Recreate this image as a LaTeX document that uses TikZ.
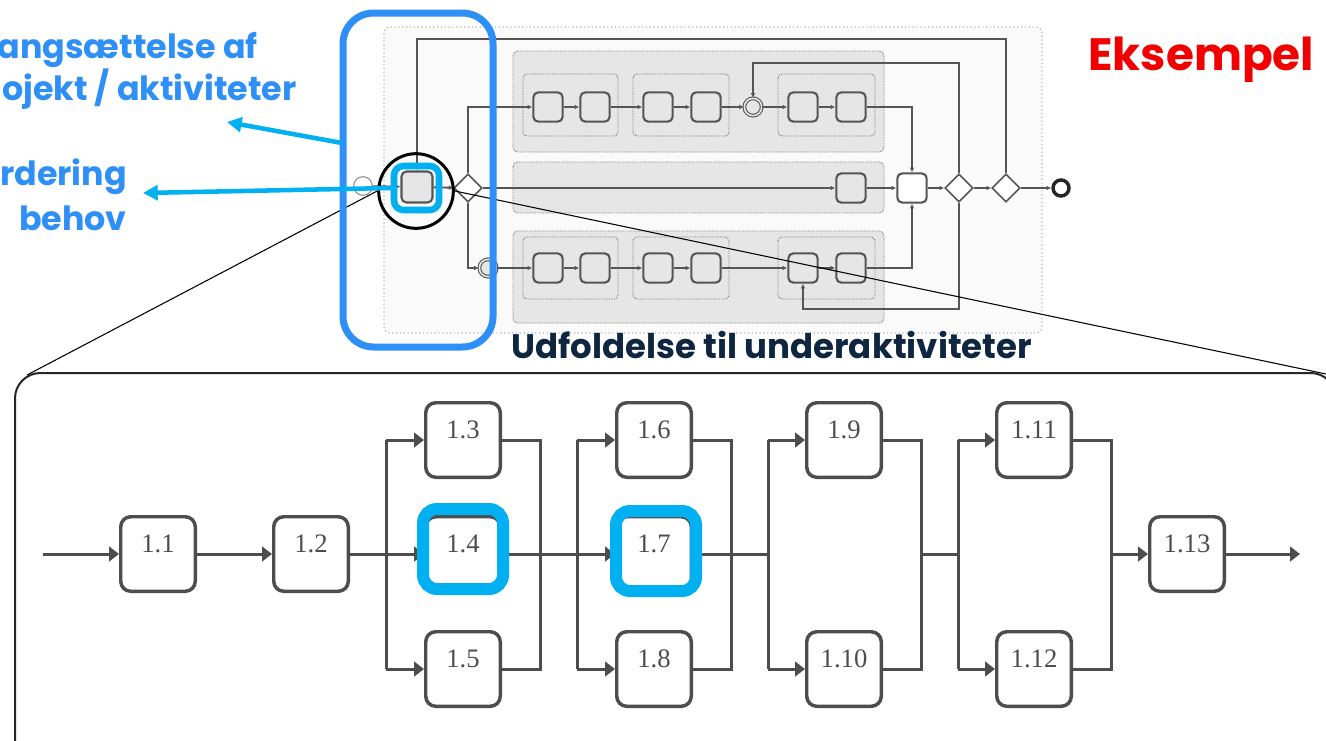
\documentclass[tikz,border=0pt]{standalone}
\usepackage{fontspec}
\setmainfont{Liberation Serif}
\newfontfamily\popfont{Poppins}
\usetikzlibrary{arrows.meta,shapes.geometric,calc}
\definecolor{bpblue}{HTML}{2E8FF7}
\definecolor{cyanh}{HTML}{00B0F0}
\definecolor{navyx}{HTML}{0F2640}
\definecolor{lanefill}{HTML}{E6E6E6}
\definecolor{tgray}{HTML}{555555}
\definecolor{dgray}{HTML}{4D4D4D}
\definecolor{redx}{HTML}{F20000}
\begin{document}
\begin{tikzpicture}[x=0.75pt,y=-0.75pt,
  pool/.style={draw=black!30,dotted,line width=0.9pt,fill=black!2,rounded corners=4.5pt},
  lane/.style={draw=black!45,dash pattern=on 1.1pt off 0.8pt,line width=0.7pt,fill=lanefill,rounded corners=3.5pt},
  grp/.style={draw=black!50,dash pattern=on 1pt off 0.9pt,line width=0.7pt,rounded corners=3pt},
  task/.style={draw=tgray,fill=lanefill,line width=1.6pt,rounded corners=3.75pt,minimum size=22pt,inner sep=0pt},
  gw/.style={diamond,aspect=1,draw=tgray,fill=white,line width=1.2pt,minimum size=21pt,inner sep=0pt},
  sev/.style={circle,draw=black!45,line width=0.8pt,fill=white,minimum size=14pt,inner sep=0pt},
  iev/.style={circle,draw=tgray,double=lanefill,double distance=1.2pt,line width=0.8pt,fill=lanefill,minimum size=13pt,inner sep=0pt},
  eev/.style={circle,draw=black!85,line width=2.6pt,fill=white,minimum size=12pt,inner sep=0pt},
  tline/.style={draw=tgray,line width=1.4pt},
  tarr/.style={tline,-{Latex[length=3.5pt,width=3.5pt]}},
  zline/.style={draw=black,line width=0.8pt},
  carr/.style={draw=cyanh,line width=3.4pt,-{Triangle[length=11pt,width=11pt]}},
  btxt/.style={font=\popfont\bfseries\fontsize{25}{30}\selectfont,text=bpblue,inner sep=0pt},
  bbox/.style={draw=dgray,fill=white,line width=2.6pt,rounded corners=7.5pt,minimum size=55.9pt,inner sep=0pt},
  blab/.style={font=\fontsize{20}{20}\selectfont,text=dgray,inner sep=0pt},
  bline/.style={draw=dgray,line width=2.25pt},
  barr/.style={bline,-{Triangle[length=7.5pt,width=11pt]}},
  hlbox/.style={draw=cyanh,line width=9pt,rounded corners=10.5pt,minimum size=60pt,inner sep=0pt}
]
\useasboundingbox (0,0) rectangle (1326,740);
\clip (0,0) rectangle (1326,740);
\fill[white] (0,0) rectangle (1326,740);

% ---------- top process diagram ----------
\draw[pool] (384,27) rectangle (1042,333);
\draw[lane] (513,51) rectangle (884,152);
\draw[lane] (513,162) rectangle (884,213);
\draw[lane] (513,231) rectangle (884,323);
\draw[grp] (523,74) rectangle (618,136);
\draw[grp] (633,74) rectangle (729,136);
\draw[grp] (778,74) rectangle (875,136);
\draw[grp] (523,237) rectangle (618,299);
\draw[grp] (633,237) rectangle (729,299);
\draw[grp] (778,237) rectangle (875,299);

\node[sev] (st) at (363,186) {};
\node[task,minimum size=23.25pt] (t0) at (417,187) {};
\node[gw] (g1) at (468,188) {};
\node[task] (a1) at (548,107) {};
\node[task] (a2) at (595,107) {};
\node[task] (a3) at (658,107) {};
\node[task] (a4) at (706,107) {};
\node[iev] (e1) at (753,107) {};
\node[task] (a5) at (803,107) {};
\node[task] (a6) at (851,107) {};
\node[task] (b1) at (851,188) {};
\node[task,fill=white] (mt) at (912,188) {};
\node[gw] (g2) at (959,188) {};
\node[gw] (g3) at (1006,188) {};
\node[eev] (en) at (1061,188) {};
\node[iev] (e3) at (488,268) {};
\node[task] (c1) at (548,268) {};
\node[task] (c2) at (595,268) {};
\node[task] (c3) at (658,268) {};
\node[task] (c4) at (706,268) {};
\node[task] (c5) at (803,268) {};
\node[task] (c6) at (851,268) {};

\coordinate (k1) at (959,63);
\coordinate (k2) at (753,63);
\coordinate (k3) at (959,309);
\coordinate (k4) at (803,309);
\coordinate (k5) at (1006,39);
\coordinate (k6) at (417,39);

\draw[tarr] (st) -- (t0);
\draw[tarr] (t0) -- (g1);
\draw[tarr] (g1.north) |- (a1.west);
\draw[tarr] (g1.south) |- (e3.west);
\draw[tarr] (a1) -- (a2);
\draw[tarr] (a2) -- (a3);
\draw[tarr] (a3) -- (a4);
\draw[tarr] (a4) -- (e1);
\draw[tarr] (e1) -- (a5);
\draw[tarr] (a5) -- (a6);
\draw[tarr] (a6.east) -| (mt.north);
\draw[tarr] (e3) -- (c1);
\draw[tarr] (c1) -- (c2);
\draw[tarr] (c2) -- (c3);
\draw[tarr] (c3) -- (c4);
\draw[tarr] (c4) -- (c5);
\draw[tarr] (c5) -- (c6);
\draw[tarr] (c6.east) -| (mt.south);
\draw[tarr,line width=1.8pt] (g1.east) -- (b1.west);
\draw[tarr] (b1) -- (mt);
\draw[tarr] (mt) -- (g2);
\draw[tarr] (g2) -- (g3);
\draw[tarr] (g3) -- (en);
\draw[tarr] (g2.north) -- (k1) -- (k2) -- (e1.north);
\draw[tarr] (g2.south) -- (k3) -- (k4) -- (c5.south);
\draw[tarr,line width=1.8pt] (g3.north) -- (k5) -- (k6) -- (t0.north);

% ---------- zoom highlight ----------
\node[circle,draw=black,line width=2.25pt,minimum size=56pt,inner sep=0pt] (zc) at (416,191) {};
\coordinate (zl) at (27,375);
\coordinate (zr) at (1326,374);
\draw[zline] (zc.west) -- (zl);
\draw[zline] (zc.east) -- (zr);

\node[draw=cyanh,line width=4.9pt,rounded corners=7pt,minimum width=33.75pt,minimum height=33pt,inner sep=0pt] (ht) at (416.5,188) {};
\node[draw=bpblue,line width=5.25pt,rounded corners=23pt,minimum width=112.5pt,minimum height=250.5pt,inner sep=0pt] (hb) at (418,180) {};

% ---------- labels and pointers ----------
\node[btxt,anchor=base east] (l1) at (258,58) {angsættelse af};
\node[btxt,anchor=base east] (l2) at (297,100) {ojekt / aktiviteter};
\node[btxt,anchor=base east] (l3) at (127,185) {rdering};
\node[btxt,anchor=base east] (l4) at (127,230) {behov};
\coordinate (p1s) at (342,143);
\coordinate (p1t) at (227,122);
\coordinate (p2t) at (143,193);
\draw[carr] (p1s) -- (p1t);
\draw[carr] (ht.west) -- (p2t);

\node[font=\popfont\bfseries\fontsize{34}{40}\selectfont,text=redx,anchor=base west,inner sep=0pt] (ek) at (1088,70) {Eksempel};
\node[font=\popfont\bfseries\fontsize{25.5}{30}\selectfont,text=navyx,anchor=base west,inner sep=0pt] (ud) at (511,358) {Udfoldelse til underaktiviteter};

% ---------- bottom sub-activity diagram ----------
\draw[black!85,line width=1.5pt,rounded corners=19pt] (15,800) -- (15,373) -- (1336,373) -- (1336,800);

\node[bbox] (b1) at (158,554) {};
\node[bbox] (b2) at (311,554) {};
\node[bbox] (b3) at (463,440) {};
\node[bbox] (b4) at (463,554) {};
\node[bbox] (b5) at (463,669) {};
\node[bbox] (b6) at (654,440) {};
\node[bbox] (b7) at (654,554) {};
\node[bbox] (b8) at (654,669) {};
\node[bbox] (b9) at (844,440) {};
\node[bbox] (b10) at (844,669) {};
\node[bbox] (b11) at (1034,440) {};
\node[bbox] (b12) at (1034,669) {};
\node[bbox] (b13) at (1187,554) {};

\foreach \n/\t in {b1/1.1,b2/1.2,b3/1.3,b4/1.4,b5/1.5,b6/1.6,b7/1.7,b8/1.8,b9/1.9,b10/1.10,b11/1.11,b12/1.12,b13/1.13}
  \node[blab] (lab\n) at ($(\n.center)+(0,-10)$) {\t};

\coordinate (in) at (43,554);
\coordinate (out) at (1300,554);
\coordinate (s1) at (386,554);
\coordinate (j1) at (540,554);
\coordinate (s2) at (577,554);
\coordinate (j2) at (731,554);
\coordinate (s3) at (768,554);
\coordinate (j3) at (921,554);
\coordinate (s4) at (958,554);
\coordinate (j4) at (1111,554);

\draw[barr] (in) -- (b1.west);
\draw[barr] (b1.east) -- (b2.west);
\draw[bline] (b2.east) -- (s1);
\draw[bline] (s1 |- b3.west) -- (s1 |- b5.west);
\draw[barr] (s1 |- b3.west) -- (b3.west);
\draw[barr] (s1) -- (b4.west);
\draw[barr] (s1 |- b5.west) -- (b5.west);
\draw[bline] (b3.east) -| (j1) |- (b5.east);
\draw[bline] (b4.east) -- (s2);
\draw[bline] (s2 |- b6.west) -- (s2 |- b8.west);
\draw[barr] (s2 |- b6.west) -- (b6.west);
\draw[barr] (s2) -- (b7.west);
\draw[barr] (s2 |- b8.west) -- (b8.west);
\draw[bline] (b6.east) -| (j2) |- (b8.east);
\draw[bline] (b7.east) -- (s3);
\draw[bline] (s3 |- b9.west) -- (s3 |- b10.west);
\draw[barr] (s3 |- b9.west) -- (b9.west);
\draw[barr] (s3 |- b10.west) -- (b10.west);
\draw[bline] (b9.east) -| (j3) |- (b10.east);
\draw[bline] (j3) -- (s4);
\draw[bline] (s4 |- b11.west) -- (s4 |- b12.west);
\draw[barr] (s4 |- b11.west) -- (b11.west);
\draw[barr] (s4 |- b12.west) -- (b12.west);
\draw[bline] (b11.east) -| (j4) |- (b12.east);
\draw[barr] (j4) -- (b13.west);
\draw[barr] (b13.east) -- (out);

\node[hlbox] (h4) at (463,549) {};
\node[hlbox] (h7) at (656,551) {};
\end{tikzpicture}
\end{document}
